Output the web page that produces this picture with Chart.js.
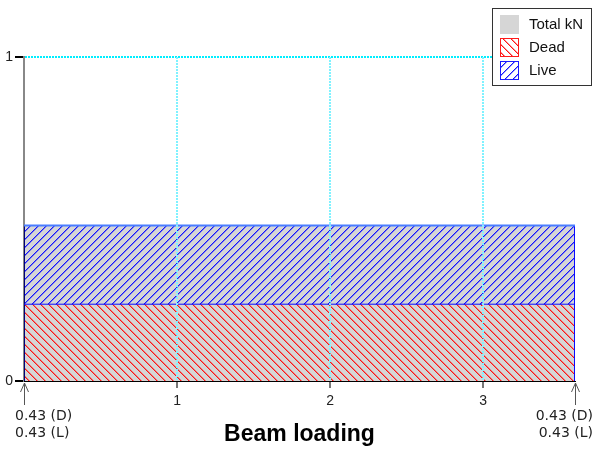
<!DOCTYPE html>
<html>
<head>
<meta charset="utf-8">
<script src="https://cdn.jsdelivr.net/npm/chart.js@4/dist/chart.umd.min.js"></script>
<style>
  html, body { margin: 0; padding: 0; background: #fff; }
  #wrap { width: 593px; height: 453px; }
</style>
</head>
<body>
<div id="wrap"><canvas id="beam_chart"></canvas></div>
<script>
// beam span ends (m) and load levels (normalised)
const spanX = [0, 3.6]
const totalLevel = [0.48, 0.48]
const deadLevel = [0.237, 0.237]
const liveLevel = [0.48, 0.48]

// reactions shown under each support (kN)
const reactDead = [0.43, 0.43]
const reactLive = [0.43, 0.43]

const xTicks = [1, 2, 3]
const yTicks = [0, 1]
const legendLabels = ['Total kN', 'Dead', 'Live']
const axisTitle = 'Beam loading'

const FONT = 'Arial, "Liberation Sans", sans-serif'

// pixel-stair hatch tile, like the old GDI brushes
function hatch(rgb, dir) {
  const c = document.createElement('canvas')
  c.width = 8
  c.height = 8
  const g = c.getContext('2d')
  for (let i = 0; i < 8; i++) {
    const y = dir == '\\' ? i : 7 - i
    g.fillStyle = `rgb(${rgb})`
    g.fillRect(i, y, 1, 1)
    g.fillStyle = `rgba(${rgb},0.45)`
    g.fillRect((i + 1) % 8, y, 1, 1)
  }
  return g.createPattern(c, 'repeat')
}

const redHatch = hatch('255,20,20', '\\')
const blueHatch = hatch('20,20,255', '/')
const GRAY = '#d6d6d6'

// outline of the whole load block
const totalPts = [
  { x: spanX[0], y: 0 },
  { x: spanX[0], y: totalLevel[0] },
  { x: spanX[1], y: totalLevel[1] },
  { x: spanX[1], y: 0 },
]
const edgeColors = ['#00007a', 'rgba(0,0,0,0)', '#0a0aff']

// legend box + support arrows drawn after the chart
const extrasPlugin = {
  id: 'extras',
  afterDraw(chart) {
    const ctx = chart.ctx
    const xs = chart.scales.x
    const bottom = chart.chartArea.bottom

    // support arrows and reactions
    ctx.save()
    ctx.strokeStyle = '#555'
    ctx.lineWidth = 1
    ctx.font = '14px "DejaVu Sans", Verdana, sans-serif'
    ctx.fillStyle = '#222'
    ctx.textBaseline = 'middle'
    for (let i = 0; i < spanX.length; i++) {
      const px = Math.round(xs.getPixelForValue(spanX[i])) + 0.5
      ctx.beginPath()
      ctx.moveTo(px, bottom + 2)
      ctx.lineTo(px, bottom + 24)
      ctx.moveTo(px - 4, bottom + 11)
      ctx.lineTo(px, bottom + 2)
      ctx.lineTo(px + 4, bottom + 11)
      ctx.stroke()
      const l1 = reactDead[i].toFixed(2) + ' (D)'
      const l2 = reactLive[i].toFixed(2) + ' (L)'
      let tx
      if (i == 0) {
        ctx.textAlign = 'left'
        tx = 15
      } else {
        ctx.textAlign = 'right'
        tx = 593
      }
      ctx.fillText(l1, tx, bottom + 35)
      ctx.fillText(l2, tx, bottom + 52)
    }
    ctx.restore()

    // legend
    ctx.save()
    ctx.fillStyle = '#fff'
    ctx.fillRect(492, 8, 100, 78)
    ctx.strokeStyle = '#333'
    ctx.lineWidth = 1
    ctx.strokeRect(492.5, 8.5, 99, 77)
    const swatches = [
      { fill: GRAY, border: null },
      { fill: redHatch, border: '#ff1a1a' },
      { fill: blueHatch, border: '#1a1aff' },
    ]
    ctx.font = '15px ' + FONT
    ctx.textAlign = 'left'
    ctx.textBaseline = 'middle'
    for (let i = 0; i < legendLabels.length; i++) {
      const y = 15 + i * 23
      ctx.fillStyle = swatches[i].fill
      ctx.fillRect(500, y, 19, 19)
      if (swatches[i].border) {
        ctx.strokeStyle = swatches[i].border
        ctx.strokeRect(500.5, y + 0.5, 18, 18)
      }
      ctx.fillStyle = '#111'
      ctx.fillText(legendLabels[i], 529, y + 10)
    }
    ctx.restore()
  },
}

const config = {
  type: 'line',
  data: {
    datasets: [
      {
        label: legendLabels[1],
        data: spanX.map((x, i) => ({ x: x, y: deadLevel[i] })),
        fill: 'origin',
        backgroundColor: redHatch,
        borderColor: '#0a0aff',
        borderWidth: 1,
        pointRadius: 0,
        order: 1,
      },
      {
        label: legendLabels[2],
        data: spanX.map((x, i) => ({ x: x, y: liveLevel[i] })),
        fill: '-1',
        backgroundColor: blueHatch,
        borderColor: '#4a7dff',
        borderWidth: 2,
        pointRadius: 0,
        order: 0,
      },
      {
        label: legendLabels[0],
        data: totalPts,
        fill: 'origin',
        backgroundColor: GRAY,
        borderWidth: 2,
        pointRadius: 0,
        segment: {
          borderColor: (c) => edgeColors[c.p0DataIndex],
        },
        order: 2,
      },
    ],
  },
  options: {
    responsive: true,
    maintainAspectRatio: false,
    animation: false,
    layout: { padding: { top: 57, right: 18, left: 0, bottom: 0 } },
    plugins: {
      legend: { display: false },
      tooltip: { enabled: false },
      filler: { drawTime: 'beforeDatasetsDraw' },
    },
    scales: {
      x: {
        type: 'linear',
        min: spanX[0],
        max: spanX[1],
        afterBuildTicks: (s) => { s.ticks = xTicks.map((v) => ({ value: v })) },
        afterFit: (s) => { s.height = 72 },
        border: { display: true, color: '#000', width: 1, z: 2, dash: [2, 1] },
        grid: {
          z: 1,
          color: '#80f2ff',
          lineWidth: 2,
          tickColor: '#777',
          tickLength: 7,
        },
        ticks: {
          color: '#222',
          font: { family: FONT, size: 14 },
          padding: 5,
          maxRotation: 0,
        },
        title: {
          display: true,
          text: axisTitle,
          color: '#000',
          font: { family: FONT, size: 23, weight: 'bold' },
          padding: { top: 0, bottom: 5 },
        },
      },
      y: {
        min: 0,
        max: 1,
        afterBuildTicks: (s) => { s.ticks = yTicks.map((v) => ({ value: v })) },
        afterFit: (s) => { s.width = 24 },
        border: { display: true, color: '#888', width: 2, dash: [2, 1] },
        grid: {
          color: ['rgba(0,0,0,0)', '#00eeff'],
          lineWidth: 2,
          tickColor: '#000',
          tickLength: 9,
        },
        ticks: {
          color: '#222',
          font: { family: FONT, size: 14 },
          padding: 2,
        },
      },
    },
  },
  plugins: [extrasPlugin],
}

let beam_chart = new Chart(document.getElementById('beam_chart'), config)
</script>
</body>
</html>
